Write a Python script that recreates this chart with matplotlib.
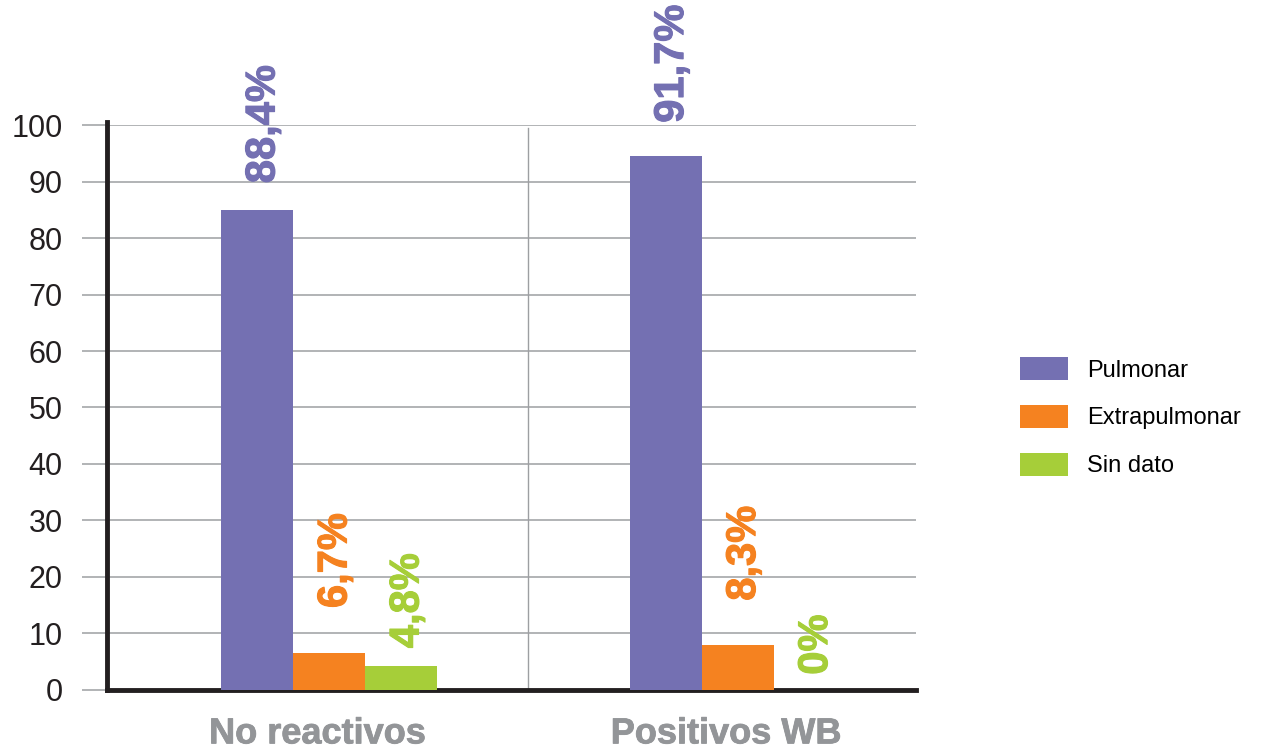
import numpy as np
import matplotlib.pyplot as plt
import matplotlib.patheffects as pe

plt.rcParams['font.family'] = ['Liberation Sans', 'DejaVu Sans']

# Data
categories = ['No reactivos', 'Positivos WB']
series_names = ['Pulmonar', 'Extrapulmonar', 'Sin dato']
pulmonar = [85.0, 94.6]
extrapulmonar = [6.6, 8.0]
sin_dato = [4.3, 0.0]
pulmonar_labels = ['88,4%', '91,7%']
extrapulmonar_labels = ['6,7%', '8,3%']
sin_dato_labels = ['4,8%', '0%']
# gap between bar top and its label (in value units)
pulmonar_gaps = [4.7, 5.8]
extrapulmonar_gaps = [7.9, 7.8]
sin_dato_gaps = [3.1, 2.7]

colors = ['#7470b2', '#f58220', '#a6ce39']
label_grey = '#939598'
grid_grey = '#9d9fa2'

fig = plt.figure(figsize=(12.63, 7.54), dpi=100)
ax = fig.add_axes([0.0847, 0.0849, 0.6406, 0.7493])

group_pos = np.array([0.55, 1.56])
width = 0.178
values = [pulmonar, extrapulmonar, sin_dato]
labels = [pulmonar_labels, extrapulmonar_labels, sin_dato_labels]
gaps = [pulmonar_gaps, extrapulmonar_gaps, sin_dato_gaps]

for i, (vals, labs, gp, c, name) in enumerate(zip(values, labels, gaps, colors, series_names)):
    xs = group_pos + (i - 1) * width
    ax.bar(xs, vals, width=width, color=c, label=name, zorder=3)
    for x, v, lab, g in zip(xs, vals, labs, gp):
        t = ax.text(x + 0.015, v + g, lab, rotation=90, ha='center', va='bottom',
                    fontsize=30, fontweight='bold', color=c, clip_on=False)
        t.set_path_effects([pe.withStroke(linewidth=0.8, foreground=c)])

ax.set_xlim(0, 2)
ax.set_ylim(0, 100)
ax.set_yticks(np.arange(0, 101, 10))
ax.yaxis.grid(True, color=grid_grey, linewidth=1.1, zorder=0)
ax.axvline(1.04, ymax=0.995, color=grid_grey, linewidth=1.0, zorder=0)

ax.tick_params(axis='y', length=18, width=1.1, color=grid_grey, pad=14,
               labelsize=22, labelcolor='#231f20')
ax.set_xticks(group_pos - 0.03)
ax.set_xticklabels(categories, fontsize=26, fontweight='bold', color=label_grey)
ax.tick_params(axis='x', length=0, pad=19)
for t in ax.get_xticklabels():
    t.set_path_effects([pe.withStroke(linewidth=0.6, foreground=label_grey)])

for s in ['top', 'right']:
    ax.spines[s].set_visible(False)
ax.spines['left'].set_linewidth(3.5)
ax.spines['bottom'].set_linewidth(3.5)
ax.spines['left'].set_color('#231f20')
ax.spines['bottom'].set_color('#231f20')
ax.spines['left'].set_bounds(0, 100.5)

fig.legend(loc='upper left', bbox_to_anchor=(0.8076, 0.5265), frameon=False,
           fontsize=17, handlelength=2.03, handleheight=1.14, handletextpad=0.8,
           labelspacing=0.98, borderpad=0, borderaxespad=0)

fig.savefig('out.png', dpi=100)
